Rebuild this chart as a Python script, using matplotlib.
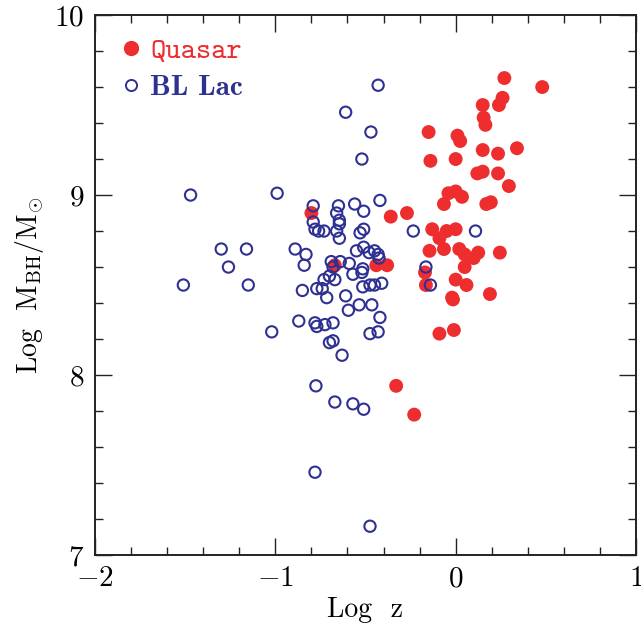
import numpy as np
import matplotlib
matplotlib.use('Agg')
import matplotlib.pyplot as plt
from matplotlib.ticker import MultipleLocator
from matplotlib.lines import Line2D

plt.rcParams['font.family'] = 'serif'
plt.rcParams['font.serif'] = ['cmr10']
plt.rcParams['mathtext.fontset'] = 'cm'
plt.rcParams['axes.formatter.use_mathtext'] = True

red = '#ED2D2E'
blue = '#2E3192'

# quasars: log z, log M_BH
qso_logz = [-0.80, -0.36, -0.27, -0.67, -0.44, -0.38, -0.09, -0.01, -0.33, -0.23,
            0.27, 0.48, 0.26, 0.24, 0.15, 0.155, 0.165, -0.15, 0.01, 0.025,
            0.15, 0.235, 0.34, -0.14, 0.00, 0.15, 0.12, 0.235, 0.295, -0.04,
            0.00, 0.035, -0.065, 0.17, 0.195, -0.13, -0.05, 0.00, -0.09, -0.145,
            -0.065, 0.02, 0.05, 0.125, 0.10, 0.245, 0.05, -0.17, -0.165, 0.00,
            0.06, -0.02, -0.015, 0.19]
qso_mbh = [8.90, 8.88, 8.90, 8.61, 8.61, 8.61, 8.23, 8.25, 7.94, 7.78,
           9.65, 9.60, 9.54, 9.50, 9.50, 9.43, 9.39, 9.35, 9.33, 9.30,
           9.25, 9.23, 9.26, 9.19, 9.20, 9.13, 9.12, 9.12, 9.05, 9.01,
           9.02, 8.99, 8.95, 8.95, 8.96, 8.81, 8.80, 8.81, 8.76, 8.69,
           8.70, 8.70, 8.67, 8.68, 8.65, 8.68, 8.60, 8.57, 8.50, 8.53,
           8.50, 8.43, 8.42, 8.45]

# BL Lacs: log z, log M_BH
bll_logz = [-1.47, -0.99, -1.30, -1.16, -1.26, -1.51, -1.15, -0.89, -0.83, -0.84,
            -0.85, -0.87, -1.02, -0.79, -0.79, -0.65, -0.56, -0.42, -0.51, -0.66,
            -0.645, -0.645, -0.78, -0.76, -0.73, -0.66, -0.645, -0.53, -0.51, -0.235,
            -0.55, -0.51, -0.48, -0.45, -0.43, -0.425, -0.69, -0.64, -0.59, -0.68,
            -0.515, -0.52, -0.70, -0.67, -0.73, -0.57, -0.77, -0.74, -0.715, -0.515,
            -0.475, -0.45, -0.41, -0.61, -0.595, -0.535, -0.465, -0.42, -0.78, -0.77,
            -0.725, -0.68, -0.475, -0.43, -0.70, -0.68, -0.63, -0.775, -0.67, -0.57,
            -0.51, -0.78, -0.475, -0.43, -0.61, -0.47, -0.52, 0.11, -0.165, -0.14]
bll_mbh = [9.00, 9.01, 8.70, 8.70, 8.60, 8.50, 8.50, 8.70, 8.67, 8.61,
           8.47, 8.30, 8.24, 8.94, 8.85, 8.94, 8.95, 8.97, 8.91, 8.90,
           8.86, 8.84, 8.81, 8.80, 8.80, 8.80, 8.76, 8.79, 8.81, 8.80,
           8.69, 8.71, 8.68, 8.69, 8.67, 8.65, 8.63, 8.63, 8.62, 8.60,
           8.59, 8.57, 8.55, 8.53, 8.53, 8.56, 8.48, 8.48, 8.43, 8.49,
           8.50, 8.50, 8.51, 8.44, 8.36, 8.39, 8.39, 8.32, 8.29, 8.27,
           8.28, 8.29, 8.23, 8.24, 8.18, 8.19, 8.11, 7.94, 7.85, 7.84,
           7.81, 7.46, 7.16, 9.61, 9.46, 9.35, 9.20, 8.80, 8.60, 8.50]

fig = plt.figure(figsize=(6.41, 6.27), dpi=100)
ax = fig.add_axes([0.1482, 0.1148, 0.844, 0.8612])

ax.scatter(qso_logz, qso_mbh, s=100, color=red, edgecolors='none', zorder=2)
ax.scatter(bll_logz, bll_mbh, s=66, facecolors='none', edgecolors=blue,
           linewidths=1.5, zorder=3)

ax.set_xlim(-2, 1)
ax.set_ylim(7, 10)
ax.xaxis.set_major_locator(MultipleLocator(1))
ax.xaxis.set_minor_locator(MultipleLocator(0.2))
ax.yaxis.set_major_locator(MultipleLocator(1))
ax.yaxis.set_minor_locator(MultipleLocator(0.2))
ax.tick_params(which='both', direction='in', top=True, right=True, width=1.0,
               labelsize=21, color='#222222')
ax.tick_params(which='major', length=12, pad=8)
ax.tick_params(which='minor', length=6)
for sp in ax.spines.values():
    sp.set_linewidth(1.4)
    sp.set_color('#222222')

ax.set_xlabel('Log  z', fontsize=20, labelpad=3)
ax.set_ylabel(r'Log  M$_{\mathrm{BH}}$/M$_{\odot}$', fontsize=20, labelpad=6)

handles = [Line2D([], [], ls='none', marker='o', ms=11, color=red, mec='none'),
           Line2D([], [], ls='none', marker='o', ms=8, mfc='none', mec=blue, mew=1.4)]
leg = ax.legend(handles, ['Quasar', 'BL Lac'], loc='upper left', frameon=False,
                bbox_to_anchor=(0.002, 1.002), handletextpad=0.25, handlelength=0.8,
                labelspacing=0.35, borderaxespad=0.4, fontsize=21)
t1, t2 = leg.get_texts()
t1.set_color(red)
t1.set_fontfamily('cmtt10')
t2.set_color(blue)
t2.set_fontfamily('cmb10')

fig.savefig('out.png', dpi=100)
